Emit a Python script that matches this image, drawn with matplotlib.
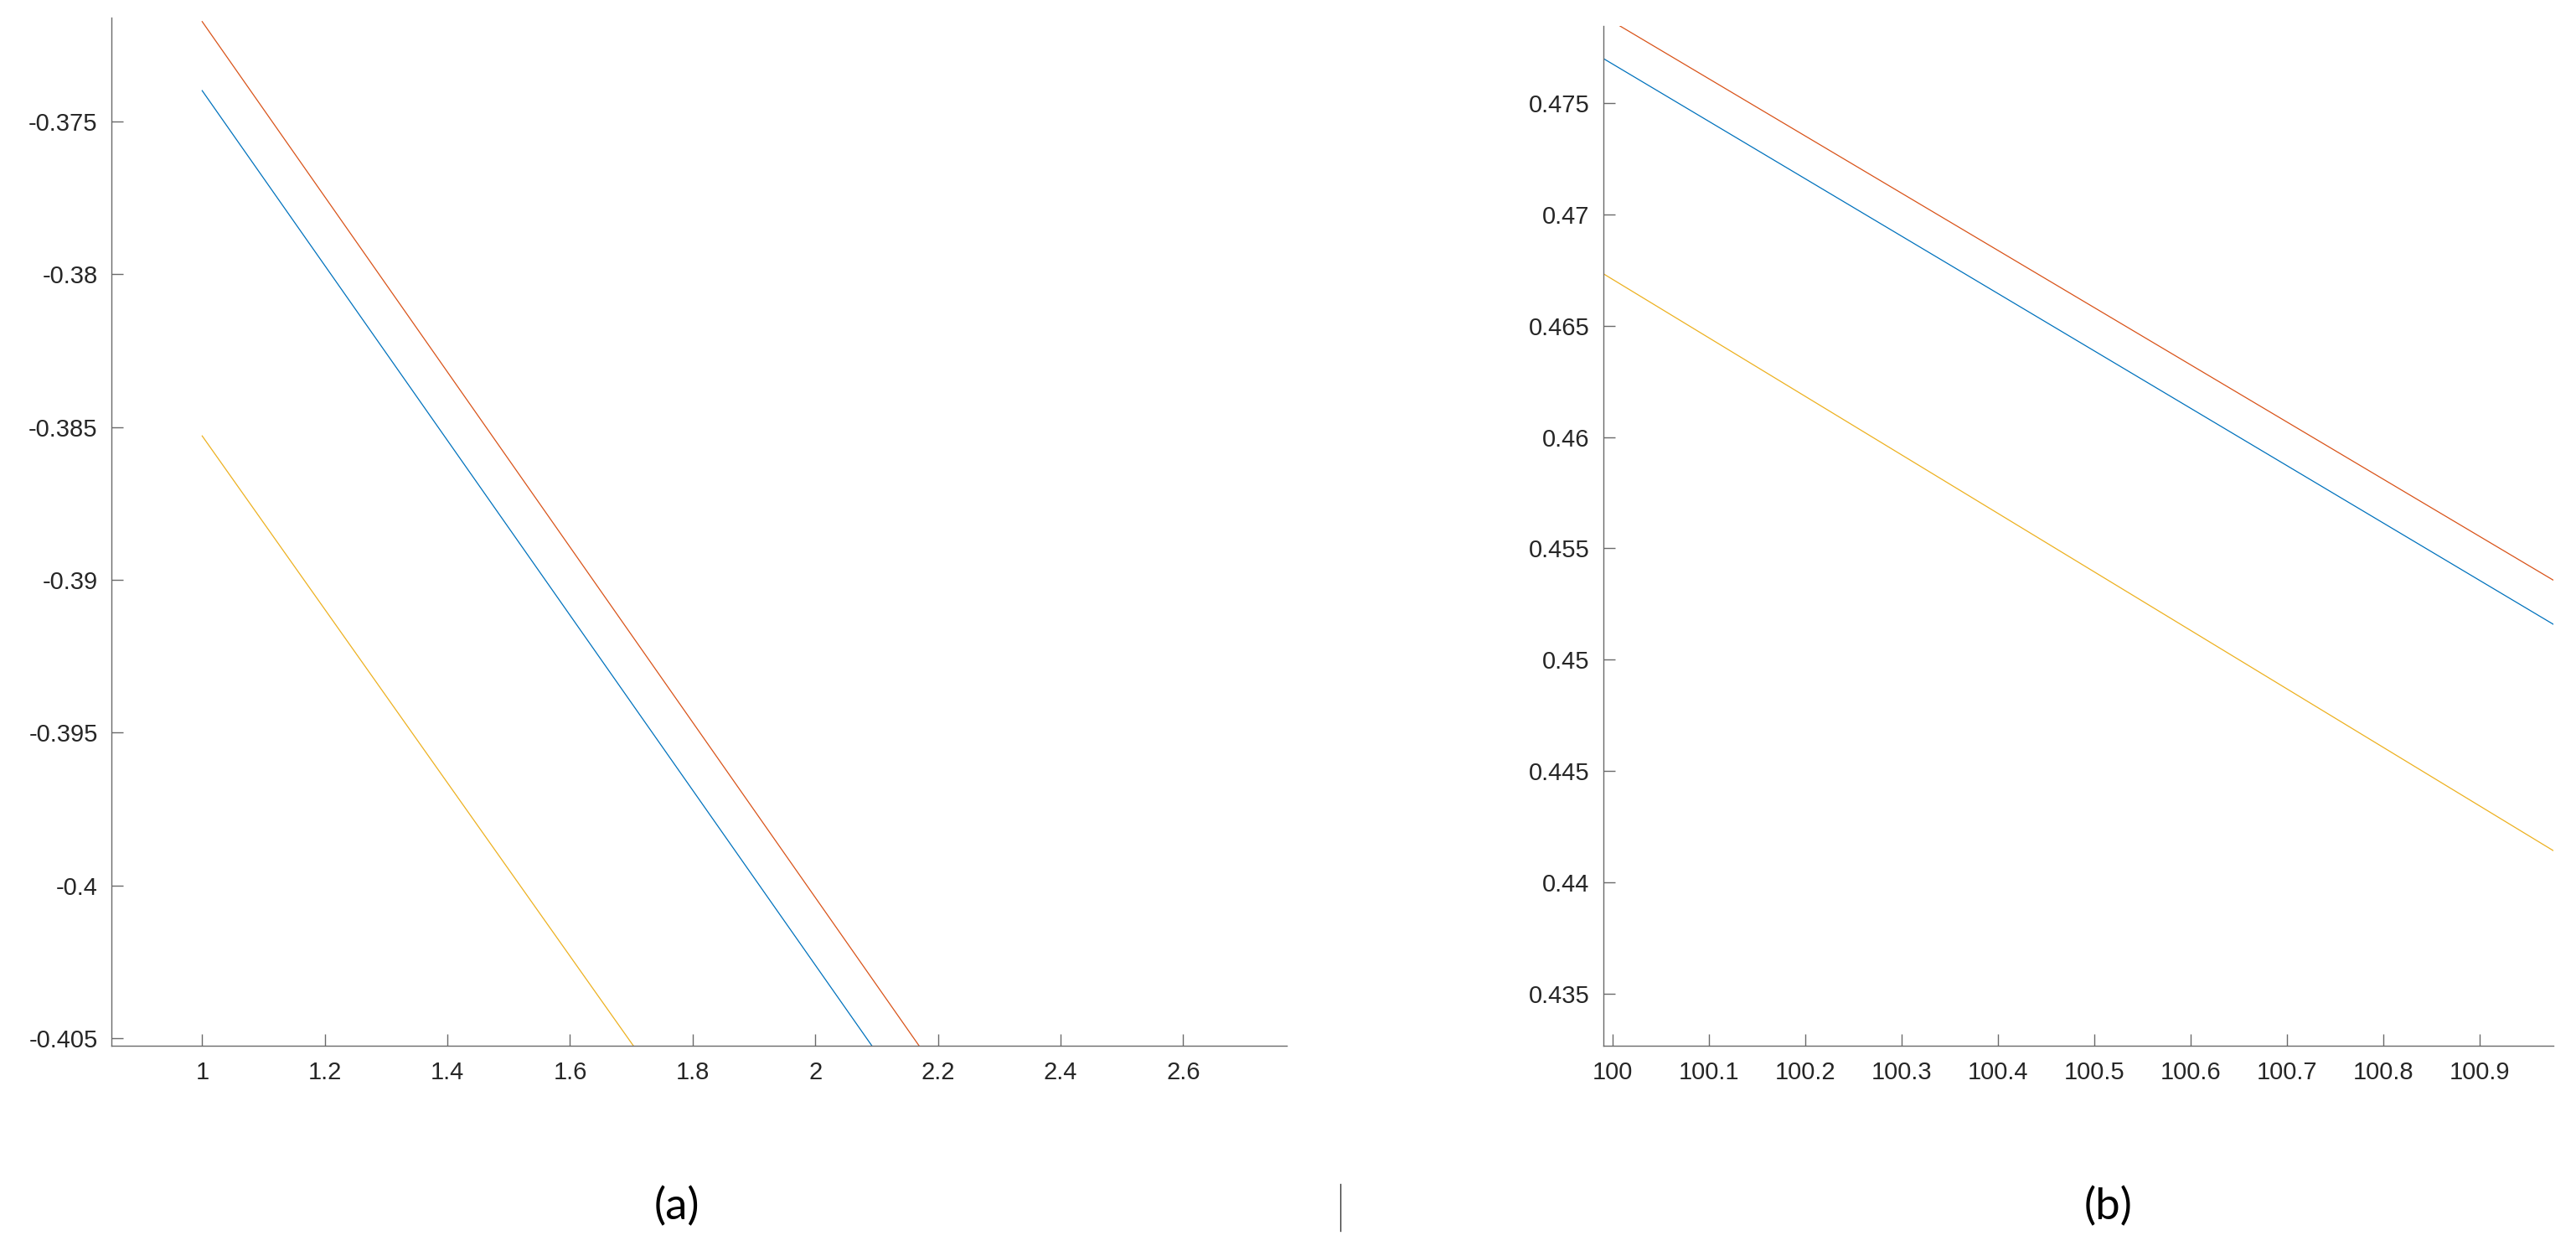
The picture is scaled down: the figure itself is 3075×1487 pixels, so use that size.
import matplotlib
matplotlib.use("Agg")
import matplotlib.pyplot as plt
from matplotlib.lines import Line2D
import numpy as np

# ---- data ----
# panel (a)
a_x_blue = [1.0, 2.092]
a_y_blue = [-0.37399, -0.40524]
a_x_red = [1.0, 2.169]
a_y_red = [-0.37173, -0.40524]
a_x_yellow = [1.0, 1.703]
a_y_yellow = [-0.38529, -0.40524]
a_xticks = [1, 1.2, 1.4, 1.6, 1.8, 2, 2.2, 2.4, 2.6]
a_xticklabels = ["1", "1.2", "1.4", "1.6", "1.8", "2", "2.2", "2.4", "2.6"]
a_yticks = [-0.405, -0.4, -0.395, -0.39, -0.385, -0.38, -0.375]
a_yticklabels = ["-0.405", "-0.4", "-0.395", "-0.39", "-0.385", "-0.38", "-0.375"]

# panel (b)
b_x_blue = [99.9904, 100.976]
b_y_blue = [0.47698, 0.45160]
b_x_red = [100.0069, 100.976]
b_y_red = [0.47846, 0.45358]
b_x_yellow = [99.9904, 100.976]
b_y_yellow = [0.46732, 0.44144]
b_xticks = [100, 100.1, 100.2, 100.3, 100.4, 100.5, 100.6, 100.7, 100.8, 100.9]
b_xticklabels = ["100", "100.1", "100.2", "100.3", "100.4", "100.5",
                 "100.6", "100.7", "100.8", "100.9"]
b_yticks = [0.435, 0.44, 0.445, 0.45, 0.455, 0.46, 0.465, 0.47, 0.475]
b_yticklabels = ["0.435", "0.44", "0.445", "0.45", "0.455", "0.46",
                 "0.465", "0.47", "0.475"]

panel_labels = ["(a)", "(b)"]

C_BLUE = "#0072BD"
C_RED = "#D95319"
C_YELLOW = "#EDB120"
AX_COLOR = "#6a6a6a"

W, H = 3075, 1487
DPI = 100
fig = plt.figure(figsize=(W / DPI, H / DPI), dpi=DPI)
fig.patch.set_facecolor("white")

tick_font = dict(family=["Liberation Sans", "DejaVu Sans"], size=21, color="#262626")


def style_axes(ax):
    for s in ["top", "right"]:
        ax.spines[s].set_visible(False)
    for s in ["left", "bottom"]:
        ax.spines[s].set_color(AX_COLOR)
        ax.spines[s].set_linewidth(1.0)
    ax.tick_params(axis="both", direction="in", length=10, width=1.0,
                   color=AX_COLOR, labelcolor="#262626")
    ax.tick_params(axis="y", pad=12)
    ax.tick_params(axis="x", pad=13)
    for lab in ax.get_xticklabels() + ax.get_yticklabels():
        lab.set_fontfamily(tick_font["family"])
        lab.set_fontsize(tick_font["size"])


# panel (a)
axa = fig.add_axes([133.3 / W, 1 - 1247.7 / H, (1535.7 - 133.3) / W, (1247.7 - 21) / H])
axa.plot(a_x_blue, a_y_blue, color=C_BLUE, lw=0.9)
axa.plot(a_x_red, a_y_red, color=C_RED, lw=0.9)
axa.plot(a_x_yellow, a_y_yellow, color=C_YELLOW, lw=0.9)
axa.set_xlim(0.8524, 2.7686)
axa.set_ylim(-0.40524, -0.3716)
axa.set_xticks(a_xticks)
axa.set_xticklabels(a_xticklabels)
axa.set_yticks(a_yticks)
axa.set_yticklabels(a_yticklabels)
style_axes(axa)

# panel (b)
axb = fig.add_axes([1914.3 / W, 1 - 1247.7 / H, (3047.7 - 1914.3) / W, (1247.7 - 30.7) / H])
axb.plot(b_x_blue, b_y_blue, color=C_BLUE, lw=0.9)
axb.plot(b_x_red, b_y_red, color=C_RED, lw=0.9)
axb.plot(b_x_yellow, b_y_yellow, color=C_YELLOW, lw=0.9)
axb.set_xlim(99.9904, 100.976)
axb.set_ylim(0.43269, 0.47846)
axb.set_xticks(b_xticks)
axb.set_xticklabels(b_xticklabels)
axb.set_yticks(b_yticks)
axb.set_yticklabels(b_yticklabels)
style_axes(axb)

# captions
cap_font = ["Lato", "DejaVu Sans"]
fig.text(808 / W, 1 - 1440 / H, panel_labels[0], ha="center", va="center",
         fontsize=38, family=cap_font, color="black")
fig.text(2517 / W, 1 - 1440 / H, panel_labels[1], ha="center", va="center",
         fontsize=38, family=cap_font, color="black")

# thin divider between captions
fig.add_artist(Line2D([1600 / W, 1600 / W], [1 - 1469 / H, 1 - 1413 / H],
                      transform=fig.transFigure, color="#333333", lw=1.0))

fig.savefig("out.png", dpi=DPI, facecolor="white")
